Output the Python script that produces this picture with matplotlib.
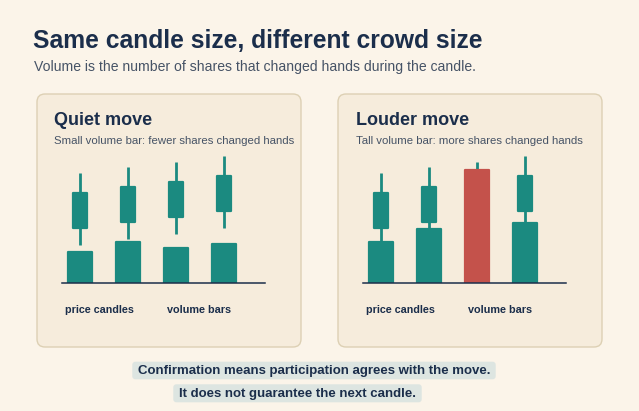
import matplotlib
matplotlib.use('Agg')
import matplotlib.pyplot as plt
from matplotlib.patches import FancyBboxPatch

# ---------------- data ----------------
candle_x = [0, 1, 2, 3]
candle_low = [38, 44, 49, 55]
candle_open = [54, 60, 65, 71]      # body bottom
candle_close = [91, 97, 102, 108]   # body top
candle_high = [110, 116, 121, 127]
volume_quiet = [32, 42, 36, 40]
volume_loud = [42, 55, 114, 61]
highlight_index = 2

title = "Same candle size, different crowd size"
subtitle = "Volume is the number of shares that changed hands during the candle."
panel_titles = ["Quiet move", "Louder move"]
panel_subtitles = ["Small volume bar: fewer shares changed hands",
                   "Tall volume bar: more shares changed hands"]
axis_labels = ["price candles", "volume bars"]
notes = ["Confirmation means participation agrees with the move.",
         "It does not guarantee the next candle."]

# ---------------- style ----------------
BG = "#fbf4e9"
PANEL = "#f6ecdc"
BORDER = "#ddd0b4"
NAVY = "#1b2e4b"
GRAY = "#465366"
TEAL = "#1b8a80"
RED = "#c4524b"
NOTE_BG = "#dde5e1"
FONT = "Liberation Sans"

W, H = 639, 411
fig = plt.figure(figsize=(W / 100, H / 100), dpi=100)
fig.patch.set_facecolor(BG)
bg = fig.add_axes([0, 0, 1, 1])
bg.set_xlim(0, W)
bg.set_ylim(H, 0)
bg.axis('off')
bg.set_facecolor(BG)

renderer = fig.canvas.get_renderer()


def fit(t, target_w):
    for _ in range(3):
        w = t.get_window_extent(renderer).width
        t.set_fontsize(t.get_fontsize() * target_w / w)


def txt(x, y, s, target_w, size=10, weight='normal', color=NAVY, ha='left', **kw):
    t = bg.text(x, y, s, fontsize=size, fontweight=weight, color=color, ha=ha,
                va='baseline', family=FONT, **kw)
    fit(t, target_w)
    return t


# title block
txt(33, 48.3, title, 448, size=17, weight='bold')
txt(34, 70.5, subtitle, 443, size=10, color=GRAY)

# panels
panel_left = [37, 338]
panel_sub_w = [240.7, 226.7]
panel_title_w = [98.7, 113.3]
volumes = [volume_quiet, volume_loud]
EDGE = 1.6  # points, round join gives soft corners
edge_px = EDGE / 72 * 100
for i, px in enumerate(panel_left):
    bg.add_patch(FancyBboxPatch((px, 94), 264, 253,
                                boxstyle="round,pad=0,rounding_size=8",
                                fc=PANEL, ec=BORDER, lw=1.0))
    txt(px + 17.5, 125, panel_titles[i], panel_title_w[i], size=13, weight='bold')
    txt(px + 17.5, 144.3, panel_subtitles[i], panel_sub_w[i], size=8, color=GRAY)
    txt(px + 62, 313.3, axis_labels[0], 69, size=8, weight='bold', ha='center')
    txt(px + 162, 313.3, axis_labels[1], 64, size=8, weight='bold', ha='center')

    # chart axes
    ax_left = px + 24.7
    ax_w = 203.3
    base_y = 282.7
    ax = fig.add_axes([ax_left / W, (H - base_y) / H, ax_w / W, 140 / H])
    ax.set_xlim(-0.381, 3.854)
    ax.set_ylim(0, 140)
    ax.axis('off')
    ax.patch.set_alpha(0)
    unit = (3.854 + 0.381) / ax_w   # data units per pixel (x)
    shrink = edge_px * unit
    ax.vlines(candle_x, candle_low, candle_high, color=TEAL, lw=2.0, zorder=2)
    ax.bar(candle_x, [c - o - edge_px for o, c in zip(candle_open, candle_close)],
           bottom=[o + edge_px / 2 for o in candle_open], width=0.35 - shrink,
           color=TEAL, ec=TEAL, lw=EDGE, joinstyle='round', zorder=3)
    cols = [TEAL] * len(candle_x)
    if i == 1:
        cols[highlight_index] = RED
    ax.bar(candle_x, [v - edge_px / 2 for v in volumes[i]], width=0.53 - shrink,
           color=cols, ec=cols, lw=EDGE, joinstyle='round', zorder=4)
    ax.axhline(0, color=NAVY, lw=1.1, zorder=5, clip_on=False)

# notes
note_boxes = [(132.3, 361.7, 363.4, 17.6), (173.3, 384.3, 248.4, 18.0)]
note_base = [374.2, 396.8]
note_w = [352.7, 237]
for (bx, by, bw, bh), s, yb, tw in zip(note_boxes, notes, note_base, note_w):
    bg.add_patch(FancyBboxPatch((bx, by), bw, bh,
                                boxstyle="round,pad=0,rounding_size=3",
                                fc=NOTE_BG, ec='none'))
    txt(bx + bw / 2, yb, s, tw, size=9, weight='bold', ha='center')

fig.savefig("out.png", dpi=100, facecolor=BG)
